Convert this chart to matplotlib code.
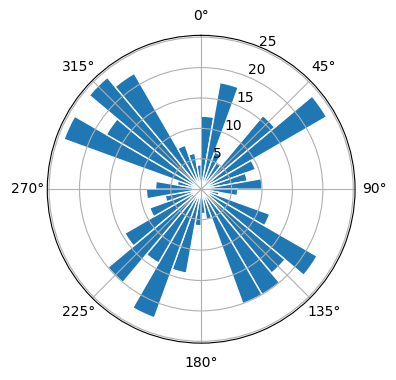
import numpy as np
import matplotlib
matplotlib.use('Agg')
import matplotlib.pyplot as plt

# bar start angles (degrees, clockwise from north) and lengths
angles_deg = list(range(0, 360, 10))
radii = [12, 17.8, 6.5, 5, 15.8, 23.8, 9.5, 7.7, 10,
         6, 3, 12, 22, 18, 20, 20, 5, 4,
         6, 14, 22.5, 14, 20, 14.5, 9, 6, 9,
         7.5, 4, 24, 18, 24, 22, 7.7, 6, 4]

fig = plt.figure(figsize=(3.96, 3.8), dpi=100)
ax = fig.add_axes([0.119, 0.097, 0.778, 0.81], projection='polar')
ax.set_theta_zero_location('N')
ax.set_theta_direction(-1)

theta = np.deg2rad(angles_deg)
width = np.deg2rad(10)
ax.bar(theta, radii, width=width, align='edge', bottom=0.0,
       color='#1f77b4', edgecolor='white', linewidth=1)
ax.set_ylim(0, 25.3)
ax.set_yticks([5, 10, 15, 20, 25])

fig.savefig('out.png', dpi=100)
